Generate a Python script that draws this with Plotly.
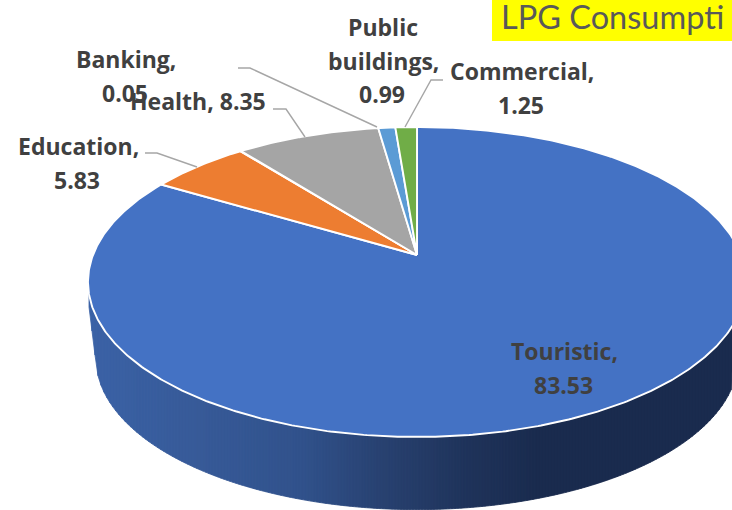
import numpy as np
import plotly.graph_objects as go

categories = ["Touristic", "Education", "Banking", "Health", "Public buildings", "Commercial"]
values = [83.53, 5.83, 0.05, 8.35, 0.99, 1.25]
slice_colors = ["#4472C4", "#ED7D31", "#FFC000", "#A5A5A5", "#5B9BD5", "#70AD47"]
title_text = "LPG Consumpti"

W, H = 732, 510
CX, CY = 417.0, 255.0
K, A, B = 0.174, 150.3, 324.0  # perspective of the tilted disc
WALL_SCALE, WALL_DROP = 0.976, 77.0


def project(t_deg, scale=1.0, drop=0.0):
    t = np.radians(t_deg)
    u, v = np.sin(t), np.cos(t)
    d = 1 + K * v
    return CX + scale * B * u / d, CY + drop - scale * A * v / d


stops_x = [90, 200, 300, 385, 470, 540, 740]
stops_rgb = np.array([
    [0x3B, 0x62, 0xA6], [0x37, 0x5A, 0x98], [0x31, 0x52, 0x8C],
    [0x28, 0x41, 0x70], [0x1F, 0x33, 0x5A], [0x1A, 0x2B, 0x4E], [0x1A, 0x2B, 0x4E],
])


def wall_color(x):
    c = [np.interp(x, stops_x, stops_rgb[:, i]) for i in range(3)]
    return "rgb(%d,%d,%d)" % tuple(int(round(a)) for a in c)


fig = go.Figure()

# Side wall, drawn as vertical strips to give the horizontal gradient
ta = np.linspace(258, 90, 600)
tx, ty = project(ta)
bx, by = project(ta, WALL_SCALE, WALL_DROP)
bmin = bx[np.argmin(bx)]
keep = ta <= ta[np.argmin(bx)]
STEP = 3
for x0 in np.arange(89, W, STEP):
    x1 = x0 + STEP
    y_top = np.interp([x0, x1], tx, ty)
    y_bot = np.interp([x0, x1], bx[keep], by[keep])
    # short straight left edge of the wall
    for j, xv in enumerate((x0, x1)):
        if xv < bmin:
            y_bot[j] = 307 + (xv - 89) / (bmin - 89) * (by[keep][0] - 307)
    xs = [x0, x1, x1, x0, x0]
    ys = [y_top[0], y_top[1], y_bot[1], y_bot[0], y_top[0]]
    col = wall_color(x0 + STEP / 2)
    fig.add_trace(go.Scatter(x=xs, y=ys, mode="lines", fill="toself", fillcolor=col,
                             line=dict(color=col, width=0.8), hoverinfo="skip", showlegend=False))

# Top face: wedges run clockwise from twelve o'clock, sized from the values
total = sum(values)
start = 0.0
for cat, val, col in zip(categories, values, slice_colors):
    sweep = 360.0 * val / total
    ts = np.linspace(start, start + sweep, max(3, int(sweep * 2) + 2))
    px, py = project(ts)
    fig.add_trace(go.Scatter(x=[CX] + list(px) + [CX], y=[CY] + list(py) + [CY],
                             mode="lines", fill="toself", fillcolor=col, name=cat,
                             line=dict(color="white", width=1.9), hoverinfo="skip", showlegend=False))
    start += sweep

# Leader lines
leaders = [
    ([145, 157, 197], [153, 153, 167]),
    ([238, 250, 377], [68, 68, 127]),
    ([273, 286, 305], [109, 109, 137]),
    ([443, 431, 405], [80, 80, 127]),
]
for lx, ly in leaders:
    fig.add_trace(go.Scatter(x=lx, y=ly, mode="lines", line=dict(color="#A6A6A6", width=1.4),
                             hoverinfo="skip", showlegend=False))

label_font = dict(family="Open Sans", size=23, color="#404040")
label_lines = [
    ("Touristic,", 564, 351), (str(values[0]), 563, 385),
    ("Education,", 78, 146), (str(values[1]), 77, 180),
    ("Banking,", 126, 59), (str(values[2]), 125, 93),
    (f"Health, {values[3]}", 198, 101),
    ("Public", 383, 27), ("buildings,", 383, 61), (str(values[4]), 382, 94),
    ("Commercial,", 522, 71), (str(values[5]), 521, 105),
]
annotations = [
    dict(text=f"<b>{t}</b>", x=x, y=y, xref="x", yref="y", showarrow=False,
         xanchor="center", yanchor="middle", font=label_font)
    for t, x, y in label_lines
]
annotations.append(dict(text=title_text, x=499, y=16, xref="x", yref="y", showarrow=False,
                        xanchor="left", yanchor="middle",
                        font=dict(family="Lato", size=32.5, color="#595959")))

fig.update_layout(
    width=W, height=H, margin=dict(l=0, r=0, t=0, b=0),
    paper_bgcolor="white", plot_bgcolor="white", showlegend=False,
    xaxis=dict(range=[0, W], visible=False, fixedrange=True),
    yaxis=dict(range=[H, 0], visible=False, fixedrange=True),
    annotations=annotations,
    shapes=[dict(type="rect", xref="x", yref="y", x0=492, x1=W, y0=0, y1=41,
                 fillcolor="#FFFF00", line=dict(width=0), layer="below")],
)
fig.write_html("out.html", include_plotlyjs=True,
               config={"displayModeBar": False},
               post_script="document.body.style.margin='0';document.body.style.overflow='hidden';")
